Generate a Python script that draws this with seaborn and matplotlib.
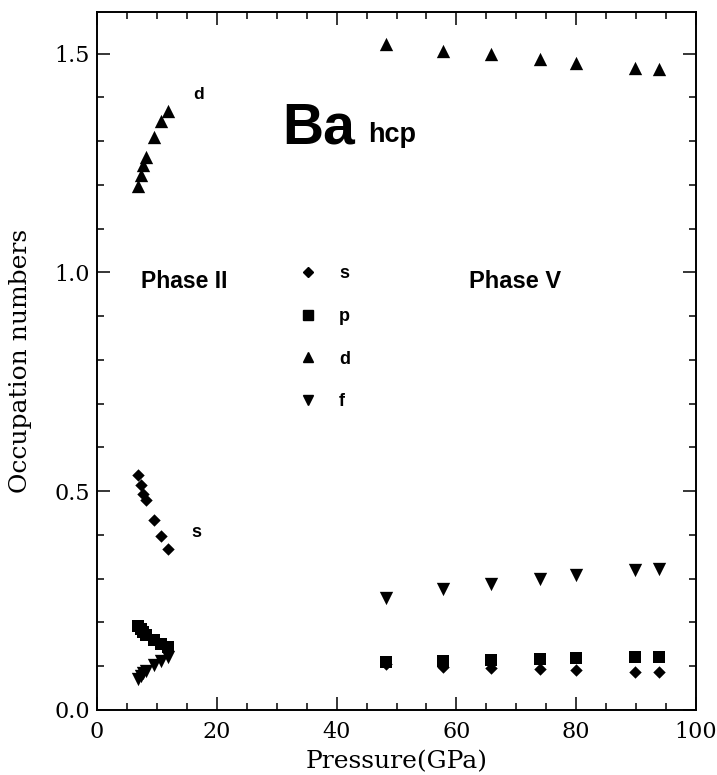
import numpy as np
import pandas as pd
import matplotlib
matplotlib.use("Agg")
import matplotlib.pyplot as plt
import seaborn as sns
from matplotlib.ticker import MultipleLocator
from matplotlib.lines import Line2D

# ---------------- data ----------------
pressure_II = [6.8, 7.3, 7.7, 8.2, 9.5, 10.7, 11.9]
pressure_V = [48.2, 57.8, 65.8, 74.0, 80.0, 89.8, 93.9]

s_II = [0.538, 0.515, 0.494, 0.479, 0.433, 0.397, 0.369]
p_II = [0.192, 0.185, 0.178, 0.171, 0.161, 0.151, 0.143]
d_II = [1.198, 1.222, 1.245, 1.264, 1.310, 1.346, 1.369]
f_II = [0.070, 0.077, 0.084, 0.090, 0.102, 0.113, 0.122]

s_V = [0.105, 0.098, 0.096, 0.093, 0.092, 0.087, 0.087]
p_V = [0.110, 0.112, 0.115, 0.116, 0.118, 0.120, 0.120]
d_V = [1.523, 1.507, 1.498, 1.487, 1.479, 1.467, 1.464]
f_V = [0.255, 0.277, 0.287, 0.300, 0.308, 0.320, 0.323]

orbitals = ["s", "p", "d", "f"]
values_II = {"s": s_II, "p": p_II, "d": d_II, "f": f_II}
values_V = {"s": s_V, "p": p_V, "d": d_V, "f": f_V}

x_ticks = [0, 20, 40, 60, 80, 100]
y_ticks = [0.0, 0.5, 1.0, 1.5]

rows = []
for orb in orbitals:
    for x, y in zip(pressure_II + pressure_V, values_II[orb] + values_V[orb]):
        rows.append({"pressure": x, "occupation": y, "orbital": orb})
df = pd.DataFrame(rows)

# ---------------- style ----------------
markers = {"s": "D", "p": "s", "d": "^", "f": "v"}
sizes = {"s": 40, "p": 78, "d": 92, "f": 92}
leg_ms = {"s": 5.6, "p": 7.0, "d": 7.6, "f": 7.6}

sns.set_style("ticks")
plt.rcParams["font.family"] = ["DejaVu Serif"]
plt.rcParams["text.color"] = "black"
plt.rcParams["axes.labelcolor"] = "black"
plt.rcParams["xtick.color"] = "black"
plt.rcParams["ytick.color"] = "black"
plt.rcParams["axes.edgecolor"] = "black"
sans = ["Liberation Sans", "DejaVu Sans"]

fig = plt.figure(figsize=(7.17, 7.75), dpi=100)
ax = fig.add_axes([0.1353, 0.0839, 0.8354, 0.9006])

for orb in orbitals:
    sns.scatterplot(data=df[df["orbital"] == orb], x="pressure", y="occupation",
                    marker=markers[orb], s=sizes[orb], color="black",
                    linewidth=0, ax=ax, legend=False)

ax.set_xlim(0, 100)
ax.set_ylim(0, 1.595)
ax.set_xticks(x_ticks)
ax.set_xticklabels([str(t) for t in x_ticks])
ax.set_yticks(y_ticks)
ax.set_yticklabels([f"{t:.1f}" for t in y_ticks])
ax.xaxis.set_minor_locator(MultipleLocator(5))
ax.yaxis.set_minor_locator(MultipleLocator(0.1))

ax.tick_params(which="both", direction="in", top=True, right=True,
               width=1.1, color="black", labelcolor="black")
ax.tick_params(which="major", length=9.5)
ax.tick_params(which="minor", length=5)
ax.tick_params(axis="x", which="major", pad=8, labelsize=16)
ax.tick_params(axis="y", which="major", pad=5, labelsize=16)
for sp in ax.spines.values():
    sp.set_visible(True)
    sp.set_linewidth(1.4)
    sp.set_color("black")

ax.set_xlabel("Pressure(GPa)", fontsize=18, labelpad=5, color="black")
ax.set_ylabel("Occupation numbers", fontsize=18, labelpad=16, color="black")

# ---------------- annotations ----------------
ax.text(31.0, 1.295, "Ba", fontsize=41, fontweight="bold", family=sans,
        ha="left", va="baseline", color="black")
ax.text(45.2, 1.297, "hcp", fontsize=19.5, fontweight="bold", family=sans,
        ha="left", va="baseline", color="black")
ax.text(16.0, 1.397, "d", fontsize=12.5, fontweight="bold", family=sans,
        ha="left", va="baseline", color="black")
ax.text(15.7, 0.395, "s", fontsize=13, fontweight="bold", family=sans,
        ha="left", va="baseline", color="black")
ax.text(14.5, 0.98, "Phase II", fontsize=16.5, fontweight="bold", family=sans,
        ha="center", va="center", color="black")
ax.text(69.8, 0.98, "Phase V", fontsize=17, fontweight="bold", family=sans,
        ha="center", va="center", color="black")

handles = [Line2D([], [], marker=markers[o], color="black", linestyle="none",
                  markersize=leg_ms[o]) for o in orbitals]
leg = ax.legend(handles, orbitals, loc="upper left",
                bbox_to_anchor=(0.338, 0.637), frameon=False,
                handlelength=1.0, handletextpad=1.2, labelspacing=1.42,
                borderpad=0, borderaxespad=0,
                prop={"family": sans, "weight": "bold", "size": 13})
for t in leg.get_texts():
    t.set_color("black")

fig.savefig("out.png", dpi=100)
